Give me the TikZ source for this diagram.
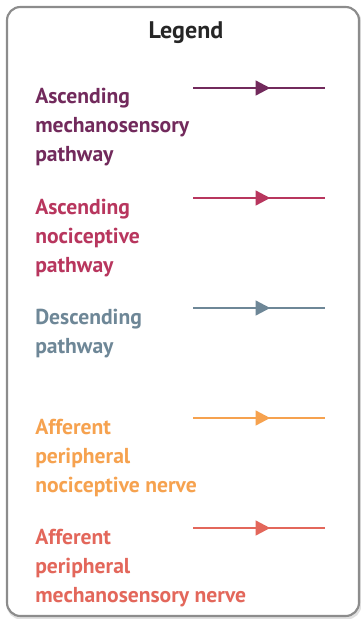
\documentclass[tikz,border=0pt]{standalone}
\usepackage{fontspec}
\setmainfont{PT Sans}
\usetikzlibrary{arrows.meta,decorations.markings}

\definecolor{mechcol}{HTML}{722A5C}
\definecolor{nocicol}{HTML}{B8365E}
\definecolor{desccol}{HTML}{6E8797}
\definecolor{affnoci}{HTML}{F6A24F}
\definecolor{affmech}{HTML}{E3675B}
\definecolor{framecol}{HTML}{8C8C8C}

\begin{document}
\begin{tikzpicture}[x=0.75pt, y=-0.75pt,
	entry/.style = {anchor=base west, align=left, inner sep=0pt,
		font=\fontsize{16.2}{21.75}\selectfont\bfseries},
	pathway/.style = {line width=1.9pt, postaction={decorate},
		decoration={markings, mark=at position 0.585 with
			{\arrow{Triangle[length=11pt, width=11pt]}}}}]
	\useasboundingbox (0,0) rectangle (361,619);
	% frame of the legend
	\draw[rounded corners=10pt, line width=2.2pt, black!12] (8,9) rectangle (360,618);
	\draw[rounded corners=10pt, line width=1.6pt, framecol, fill=white] (7,7) rectangle (359,616);
	\node[anchor=base, inner sep=0pt, font=\fontsize{18}{20}\selectfont\bfseries, black!85] (title) at (186,38) {Legend};
	% labels (anchored at the baseline of the last line)
	\node[entry, mechcol] (mech) at (35,161) {Ascending\\mechanosensory\\pathway};
	\node[entry, nocicol] (noci) at (35,272) {Ascending\\nociceptive\\pathway};
	\node[entry, desccol] (desc) at (35,353) {Descending\\pathway};
	\node[entry, affnoci] (afnoci) at (35,492) {Afferent\\peripheral\\nociceptive nerve};
	\node[entry, affmech] (afmech) at (35,602) {Afferent\\peripheral\\mechanosensory nerve};
	% line ends
	\coordinate (m1) at (193,88);  \coordinate (m2) at (325,88);
	\coordinate (n1) at (193,198); \coordinate (n2) at (325,198);
	\coordinate (d1) at (193,308); \coordinate (d2) at (325,308);
	\coordinate (f1) at (193,418); \coordinate (f2) at (325,418);
	\coordinate (g1) at (193,528); \coordinate (g2) at (325,528);
	\draw[pathway, mechcol] (m1) -- (m2);
	\draw[pathway, nocicol] (n1) -- (n2);
	\draw[pathway, desccol] (d1) -- (d2);
	\draw[pathway, affnoci] (f1) -- (f2);
	\draw[pathway, affmech] (g1) -- (g2);
\end{tikzpicture}
\end{document}
